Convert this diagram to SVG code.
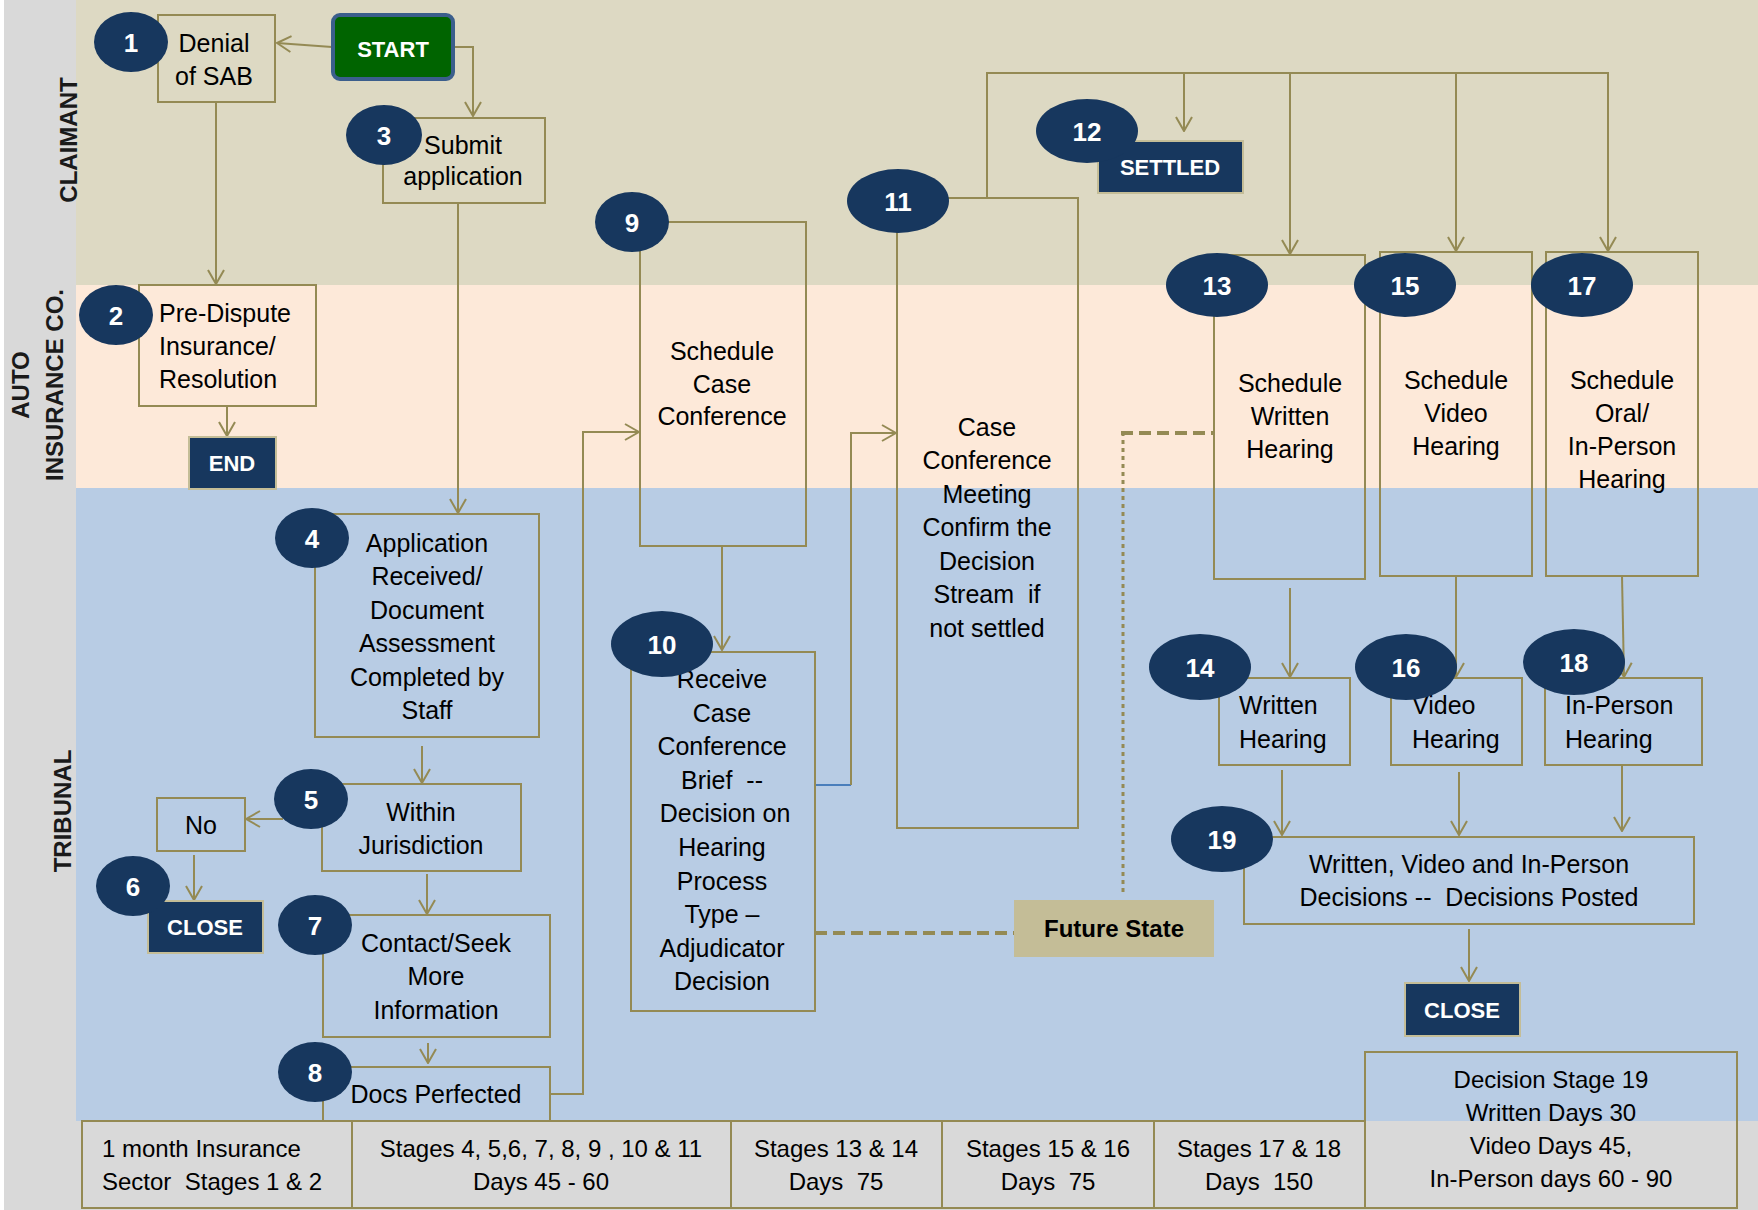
<svg xmlns="http://www.w3.org/2000/svg" width="1758" height="1210" viewBox="0 0 1758 1210">
<style>
.box{fill:none;stroke:#948a54;stroke-width:2}
.cell{fill:#d9d9d9;stroke:#948a54;stroke-width:2}
.num{fill:#17375e}
.numt{font-family:"Liberation Sans",Arial,sans-serif;font-weight:bold;font-size:26px;fill:#fff;text-anchor:middle}
.t{font-family:"Liberation Sans",Arial,sans-serif;font-size:25px;fill:#000;text-anchor:middle;white-space:pre}
.b{font-family:"Liberation Sans",Arial,sans-serif;font-size:24px;fill:#000;text-anchor:middle;white-space:pre}
.conn{fill:none;stroke:#948a54;stroke-width:2}
.term{fill:#17375e;stroke:#c4bd97;stroke-width:2}
.termt{font-family:"Liberation Sans",Arial,sans-serif;font-weight:bold;font-size:22px;fill:#fff;text-anchor:middle}
.lane{font-family:"Liberation Sans",Arial,sans-serif;font-weight:bold;font-size:24px;fill:#1a1a1a;text-anchor:middle}
text.tl{text-anchor:start}
</style>
<defs>
<marker id="arr" viewBox="0 0 16 18" refX="15" refY="9" markerWidth="16" markerHeight="18" markerUnits="userSpaceOnUse" orient="auto">
<path d="M1,1 L15,9 L1,17" fill="none" stroke="#948a54" stroke-width="2"/>
</marker>
</defs>
<rect x="0" y="0" width="1758" height="1210" fill="#fff"/>
<rect x="4" y="0" width="72" height="1210" fill="#d9d9d9"/>
<rect x="76" y="0" width="1682" height="285" fill="#ddd9c3"/>
<rect x="76" y="285" width="1682" height="203" fill="#fde9d9"/>
<rect x="76" y="488" width="1682" height="633" fill="#b8cce4"/>
<rect x="76" y="1121" width="1682" height="89" fill="#d9d9d9"/>
<g id="lanes">
<text class="lane" transform="translate(77,140) rotate(-90)">CLAIMANT</text>
<text class="lane" transform="translate(29,385) rotate(-90)">AUTO</text>
<text class="lane" transform="translate(63,385) rotate(-90)">INSURANCE CO.</text>
<text class="lane" transform="translate(71,811) rotate(-90)">TRIBUNAL</text>
</g>
<g id="footer">
<rect class="cell" x="82" y="1121" width="270" height="87"/>
<rect class="cell" x="352" y="1121" width="379" height="87"/>
<rect class="cell" x="731" y="1121" width="211" height="87"/>
<rect class="cell" x="942" y="1121" width="212" height="87"/>
<rect class="cell" x="1154" y="1121" width="211" height="87"/>
<rect class="box" x="1365" y="1052" width="372" height="156"/>
<text class="b tl" x="102" y="1157">1 month Insurance</text>
<text class="b tl" x="102" y="1190">Sector  Stages 1 &amp; 2</text>
<text class="b" x="541" y="1157">Stages 4, 5,6, 7, 8, 9 , 10 &amp; 11</text>
<text class="b" x="541" y="1190">Days 45 - 60</text>
<text class="b" x="836" y="1157">Stages 13 &amp; 14</text>
<text class="b" x="836" y="1190">Days  75</text>
<text class="b" x="1048" y="1157">Stages 15 &amp; 16</text>
<text class="b" x="1048" y="1190">Days  75</text>
<text class="b" x="1259" y="1157">Stages 17 &amp; 18</text>
<text class="b" x="1259" y="1190">Days  150</text>
<text class="b" x="1551" y="1088">Decision Stage 19</text>
<text class="b" x="1551" y="1121">Written Days 30</text>
<text class="b" x="1551" y="1154">Video Days 45,</text>
<text class="b" x="1551" y="1187">In-Person days 60 - 90</text>
</g>
<g id="connectors">
<line class="conn" x1="332" y1="47" x2="277" y2="43" marker-end="url(#arr)"/>
<polyline class="conn" points="453,47 473,47 473,116" marker-end="url(#arr)"/>
<line class="conn" x1="216" y1="102" x2="216" y2="284" marker-end="url(#arr)"/>
<line class="conn" x1="227" y1="406" x2="227" y2="436" marker-end="url(#arr)"/>
<line class="conn" x1="458" y1="203" x2="458" y2="513" marker-end="url(#arr)"/>
<line class="conn" x1="422" y1="746" x2="422" y2="783" marker-end="url(#arr)"/>
<line class="conn" x1="283" y1="819" x2="246" y2="819" marker-end="url(#arr)"/>
<line class="conn" x1="194" y1="855" x2="194" y2="900" marker-end="url(#arr)"/>
<line class="conn" x1="427" y1="874" x2="427" y2="914" marker-end="url(#arr)"/>
<line class="conn" x1="428" y1="1043" x2="428" y2="1063" marker-end="url(#arr)"/>
<polyline class="conn" points="550,1094 583,1094 583,432 639,432" marker-end="url(#arr)"/>
<line class="conn" x1="722" y1="546" x2="722" y2="650" marker-end="url(#arr)"/>
<line x1="815" y1="785" x2="851" y2="785" stroke="#4a7ebb" stroke-width="2"/>
<polyline class="conn" points="851,785 851,433 896,433" marker-end="url(#arr)"/>
<polyline class="conn" points="987,198 987,73 1608,73 1608,251" marker-end="url(#arr)"/>
<line class="conn" x1="1184" y1="73" x2="1184" y2="131" marker-end="url(#arr)"/>
<line class="conn" x1="1290" y1="73" x2="1290" y2="254" marker-end="url(#arr)"/>
<line class="conn" x1="1456" y1="73" x2="1456" y2="251" marker-end="url(#arr)"/>
<line class="conn" x1="1290" y1="588" x2="1290" y2="677" marker-end="url(#arr)"/>
<line class="conn" x1="1456" y1="576" x2="1456" y2="677" marker-end="url(#arr)"/>
<line class="conn" x1="1622" y1="576" x2="1624" y2="677" marker-end="url(#arr)"/>
<line class="conn" x1="1282" y1="770" x2="1282" y2="835" marker-end="url(#arr)"/>
<line class="conn" x1="1459" y1="772" x2="1459" y2="835" marker-end="url(#arr)"/>
<line class="conn" x1="1622" y1="765" x2="1622" y2="831" marker-end="url(#arr)"/>
<line class="conn" x1="1469" y1="929" x2="1469" y2="981" marker-end="url(#arr)"/>
<line x1="815" y1="933" x2="1014" y2="933" stroke="#948a54" stroke-width="4" stroke-dasharray="12,6"/>
<line x1="1123" y1="892" x2="1123" y2="435" stroke="#948a54" stroke-width="3" stroke-dasharray="4,4"/>
<line x1="1121" y1="433" x2="1214" y2="433" stroke="#948a54" stroke-width="4" stroke-dasharray="12,6"/>
</g>
<g id="n1"><rect class="box" x="158" y="15" width="117" height="87"/><text class="t" x="214" y="52">Denial</text><text class="t" x="214" y="85">of SAB</text><ellipse class="num" cx="131" cy="42" rx="37" ry="30"/><text class="numt" x="131" y="52">1</text></g>
<g id="start"><rect x="333" y="15" width="120" height="64" rx="7" fill="#006400" stroke="#3b5e8c" stroke-width="4"/><text class="termt" x="393" y="57">START</text></g>
<g id="n3"><rect class="box" x="383" y="118" width="162" height="85"/><text class="t" x="463" y="154">Submit</text><text class="t" x="463" y="185">application</text><ellipse class="num" cx="384" cy="135" rx="38" ry="30"/><text class="numt" x="384" y="145">3</text></g>
<g id="n2"><rect class="box" x="139" y="285" width="177" height="121"/><text class="t tl" x="159" y="322">Pre-Dispute</text><text class="t tl" x="159" y="355">Insurance/</text><text class="t tl" x="159" y="388">Resolution</text><ellipse class="num" cx="116" cy="315" rx="37" ry="30"/><text class="numt" x="116" y="325">2</text></g>
<g id="end"><rect class="term" x="189" y="437" width="87" height="52"/><text class="termt" x="232" y="471">END</text></g>
<g id="n4"><rect class="box" x="315" y="514" width="224" height="223"/>
<text class="t" x="427" y="552">Application</text><text class="t" x="427" y="585">Received/</text><text class="t" x="427" y="619">Document</text><text class="t" x="427" y="652">Assessment</text><text class="t" x="427" y="686">Completed by</text><text class="t" x="427" y="719">Staff</text>
<ellipse class="num" cx="312" cy="538" rx="37" ry="30"/><text class="numt" x="312" y="548">4</text></g>
<g id="n5"><rect class="box" x="322" y="784" width="199" height="87"/><text class="t" x="421" y="821">Within</text><text class="t" x="421" y="854">Jurisdiction</text><ellipse class="num" cx="311" cy="799" rx="37" ry="30"/><text class="numt" x="311" y="809">5</text></g>
<g id="no"><rect class="box" x="157" y="798" width="88" height="53"/><text class="t" x="201" y="834">No</text></g>
<g id="n6"><rect class="term" x="148" y="901" width="115" height="52"/><text class="termt" x="205" y="935">CLOSE</text><ellipse class="num" cx="133" cy="886" rx="37" ry="30"/><text class="numt" x="133" y="896">6</text></g>
<g id="n7"><rect class="box" x="323" y="915" width="227" height="122"/><text class="t" x="436" y="952">Contact/Seek</text><text class="t" x="436" y="985">More</text><text class="t" x="436" y="1019">Information</text><ellipse class="num" cx="315" cy="925" rx="37" ry="30"/><text class="numt" x="315" y="935">7</text></g>
<g id="n8"><rect class="box" x="323" y="1067" width="227" height="54"/><text class="t" x="436" y="1103">Docs Perfected</text><ellipse class="num" cx="315" cy="1072" rx="37" ry="30"/><text class="numt" x="315" y="1082">8</text></g>
<g id="n9"><rect class="box" x="640" y="222" width="166" height="324"/><text class="t" x="722" y="360">Schedule</text><text class="t" x="722" y="393">Case</text><text class="t" x="722" y="425">Conference</text><ellipse class="num" cx="632" cy="222" rx="37" ry="30"/><text class="numt" x="632" y="232">9</text></g>
<g id="n10"><rect class="box" x="631" y="652" width="184" height="359"/>
<text class="t" x="722" y="688">Receive</text><text class="t" x="722" y="722">Case</text><text class="t" x="722" y="755">Conference</text><text class="t" x="722" y="789">Brief  --</text><text class="t" x="725" y="822">Decision on</text><text class="t" x="722" y="856">Hearing</text><text class="t" x="722" y="890">Process</text><text class="t" x="722" y="923">Type –</text><text class="t" x="722" y="957">Adjudicator</text><text class="t" x="722" y="990">Decision</text>
<ellipse class="num" cx="662" cy="644" rx="51" ry="33"/><text class="numt" x="662" y="654">10</text></g>
<g id="n11"><rect class="box" x="897" y="198" width="181" height="630"/>
<text class="t" x="987" y="436">Case</text><text class="t" x="987" y="469">Conference</text><text class="t" x="987" y="503">Meeting</text><text class="t" x="987" y="536">Confirm the</text><text class="t" x="987" y="570">Decision</text><text class="t" x="987" y="603">Stream  if</text><text class="t" x="987" y="637">not settled</text>
<ellipse class="num" cx="898" cy="201" rx="51" ry="32"/><text class="numt" x="898" y="211">11</text></g>
<g id="n12"><rect class="term" x="1098" y="141" width="145" height="52"/><text class="termt" x="1170" y="175">SETTLED</text><ellipse class="num" cx="1087" cy="131" rx="51" ry="32"/><text class="numt" x="1087" y="141">12</text></g>
<g id="n13"><rect class="box" x="1214" y="255" width="151" height="324"/><text class="t" x="1290" y="392">Schedule</text><text class="t" x="1290" y="425">Written</text><text class="t" x="1290" y="458">Hearing</text><ellipse class="num" cx="1217" cy="285" rx="51" ry="32"/><text class="numt" x="1217" y="295">13</text></g>
<g id="n15"><rect class="box" x="1380" y="252" width="152" height="324"/><text class="t" x="1456" y="389">Schedule</text><text class="t" x="1456" y="422">Video</text><text class="t" x="1456" y="455">Hearing</text><ellipse class="num" cx="1405" cy="285" rx="51" ry="32"/><text class="numt" x="1405" y="295">15</text></g>
<g id="n17"><rect class="box" x="1546" y="252" width="152" height="324"/><text class="t" x="1622" y="389">Schedule</text><text class="t" x="1622" y="422">Oral/</text><text class="t" x="1622" y="455">In-Person</text><text class="t" x="1622" y="488">Hearing</text><ellipse class="num" cx="1582" cy="285" rx="51" ry="32"/><text class="numt" x="1582" y="295">17</text></g>
<g id="n14"><rect class="box" x="1219" y="678" width="131" height="87"/><text class="t tl" x="1239" y="714">Written</text><text class="t tl" x="1239" y="748">Hearing</text><ellipse class="num" cx="1200" cy="667" rx="51" ry="33"/><text class="numt" x="1200" y="677">14</text></g>
<g id="n16"><rect class="box" x="1391" y="678" width="131" height="87"/><text class="t tl" x="1412" y="714">Video</text><text class="t tl" x="1412" y="748">Hearing</text><ellipse class="num" cx="1406" cy="667" rx="51" ry="33"/><text class="numt" x="1406" y="677">16</text></g>
<g id="n18"><rect class="box" x="1545" y="678" width="157" height="87"/><text class="t tl" x="1565" y="714">In-Person</text><text class="t tl" x="1565" y="748">Hearing</text><ellipse class="num" cx="1574" cy="662" rx="51" ry="33"/><text class="numt" x="1574" y="672">18</text></g>
<g id="n19"><rect class="box" x="1244" y="837" width="450" height="87"/><text class="t" x="1469" y="873">Written, Video and In-Person</text><text class="t" x="1469" y="906">Decisions --  Decisions Posted</text><ellipse class="num" cx="1222" cy="839" rx="51" ry="33"/><text class="numt" x="1222" y="849">19</text></g>
<g id="close2"><rect class="term" x="1405" y="983" width="115" height="53"/><text class="termt" x="1462" y="1018">CLOSE</text></g>
<g id="future"><rect x="1014" y="900" width="200" height="57" fill="#c4bd97"/><text x="1114" y="937" font-family="Liberation Sans, Arial, sans-serif" font-weight="bold" font-size="24" fill="#000" text-anchor="middle">Future State</text></g>
</svg>
